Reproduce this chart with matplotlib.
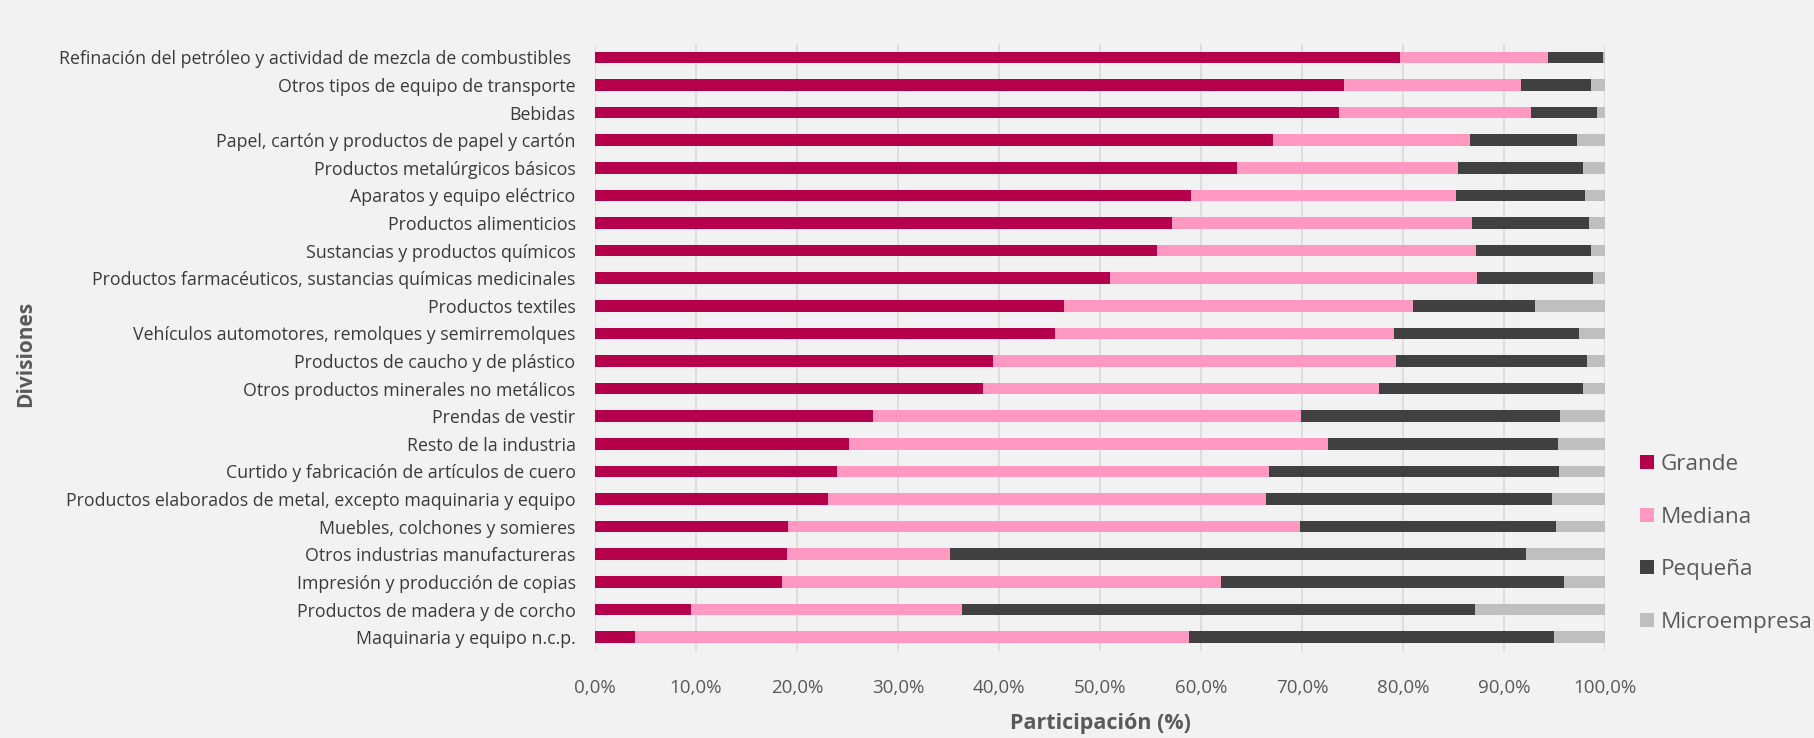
import matplotlib.pyplot as plt
import numpy as np

plt.rcParams['font.family'] = ['Open Sans', 'DejaVu Sans']

# divisiones (de arriba hacia abajo)
divisiones = [
    'Refinación del petróleo y actividad de mezcla de combustibles ',
    'Otros tipos de equipo de transporte',
    'Bebidas',
    'Papel, cartón y productos de papel y cartón',
    'Productos metalúrgicos básicos',
    'Aparatos y equipo eléctrico',
    'Productos alimenticios',
    'Sustancias y productos químicos',
    'Productos farmacéuticos, sustancias químicas medicinales',
    'Productos textiles',
    'Vehículos automotores, remolques y semirremolques',
    'Productos de caucho y de plástico',
    'Otros productos minerales no metálicos',
    'Prendas de vestir',
    'Resto de la industria',
    'Curtido y fabricación de artículos de cuero',
    'Productos elaborados de metal, excepto maquinaria y equipo',
    'Muebles, colchones y somieres',
    'Otros industrias manufactureras',
    'Impresión y producción de copias',
    'Productos de madera y de corcho',
    'Maquinaria y equipo n.c.p.',
]

# participación (%) por tamaño de empresa
grande = [79.7, 74.1, 73.6, 67.1, 63.5, 59.0, 57.1, 55.6, 51.0, 46.4, 45.5,
          39.4, 38.4, 27.5, 25.1, 24.0, 23.1, 19.1, 19.0, 18.5, 9.5, 4.0]
mediana = [14.6, 17.5, 19.0, 19.5, 21.9, 26.2, 29.7, 31.6, 36.3, 34.6, 33.6,
           39.9, 39.2, 42.4, 47.4, 42.7, 43.3, 50.7, 16.1, 43.5, 26.8, 54.8]
pequena = [5.5, 7.0, 6.6, 10.6, 12.4, 12.8, 11.6, 11.4, 11.5, 12.0, 18.3,
           18.9, 20.2, 25.6, 22.8, 28.7, 28.3, 25.3, 57.0, 33.9, 50.8, 36.1]
micro = [0.2, 1.4, 0.8, 2.8, 2.2, 2.0, 1.6, 1.4, 1.2, 7.0, 2.6,
         1.8, 2.2, 4.5, 4.7, 4.6, 5.3, 4.9, 7.9, 4.1, 12.9, 5.1]

series = [('Grande', grande, '#b5004b'),
          ('Mediana', mediana, '#ff99c2'),
          ('Pequeña', pequena, '#404040'),
          ('Microempresa', micro, '#bfbfbf')]

bg = '#f2f2f2'
fig = plt.figure(figsize=(18.14, 7.38), dpi=100, facecolor=bg)
ax = fig.add_axes([0.328, 0.118, 0.557, 0.823], facecolor=bg)

y = np.arange(len(divisiones))
izq = np.zeros(len(divisiones))
handles = []
for nombre, vals, color in series:
    vals = np.array(vals)
    b = ax.barh(y, vals, left=izq, height=0.42, color=color, label=nombre, zorder=3)
    handles.append(b)
    izq += vals

ax.set_ylim(len(divisiones) - 0.5, -0.5)
ax.set_xlim(0, 100)
ax.set_xticks(np.arange(0, 101, 10))
ax.set_xticklabels([f'{v},0%' for v in range(0, 101, 10)], color='#595959', fontsize=13.5)
ax.set_yticks(y)
ax.set_yticklabels(divisiones, color='#3a3a3a', fontsize=12.8)
ax.tick_params(axis='y', length=0, pad=14)
ax.tick_params(axis='x', length=0, pad=20)
ax.grid(axis='x', color='#d9d9d9', linewidth=1.2, zorder=0)
for s in ax.spines.values():
    s.set_visible(False)

ax.set_xlabel('Participación (%)', fontsize=15.5, fontweight='bold', color='#595959', labelpad=12)
fig.text(0.014, 0.52, 'Divisiones', rotation=90, fontsize=15, fontweight='bold',
         color='#595959', ha='center', va='center')

fig.legend(handles=handles, loc='upper left', bbox_to_anchor=(0.893, 0.412),
           frameon=False, fontsize=16.2, labelcolor='#595959',
           handlelength=0.6, handleheight=0.6, handletextpad=0.3, labelspacing=1.4)

fig.savefig('out.png', dpi=100, facecolor=bg)
